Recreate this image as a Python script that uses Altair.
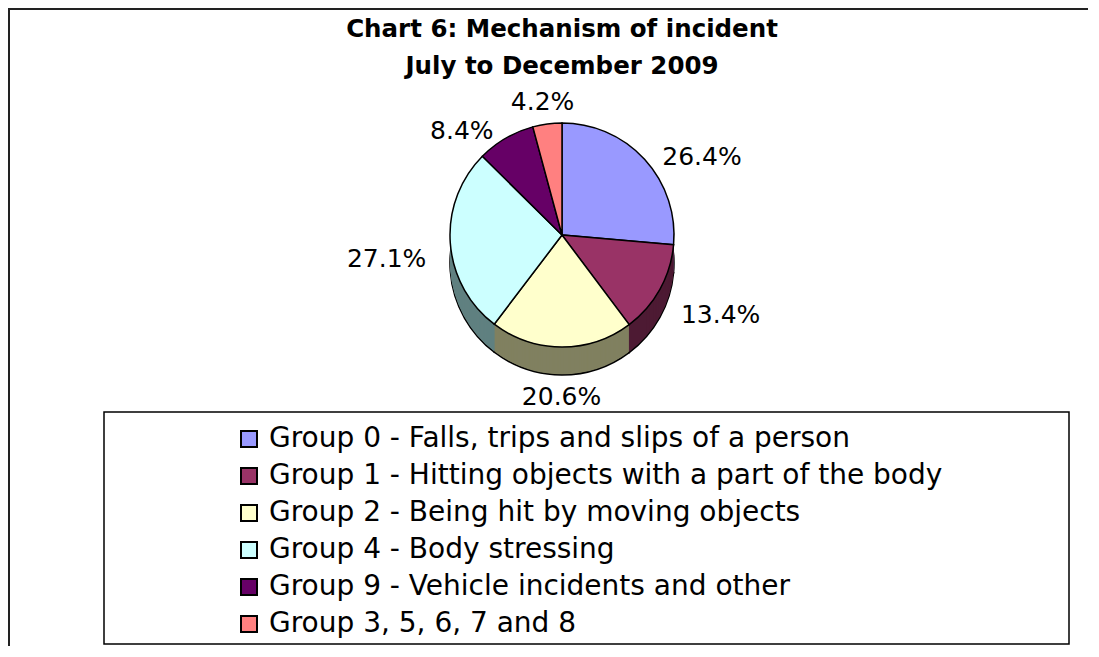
import altair as alt
import pandas as pd

# ---- data ----
categories = [
    "Group 0 - Falls, trips and slips of a person",
    "Group 1 - Hitting objects with a part of the body",
    "Group 2 - Being hit by moving objects",
    "Group 4 - Body stressing",
    "Group 9 - Vehicle incidents and other",
    "Group 3, 5, 6, 7 and 8",
]
values = [26.4, 13.4, 20.6, 27.1, 8.4, 4.2]
top_colors = ["#9999FF", "#993366", "#FFFFCC", "#CCFFFF", "#660066", "#FF8080"]
side_colors = ["#4D4D80", "#4D1A33", "#808060", "#608080", "#330033", "#804040"]
label_side = ["right", "right", "center", "left", "left", "center"]
title_lines = ["Chart 6: Mechanism of incident", "July to December 2009"]

df = pd.DataFrame({
    "category": categories,
    "value": values,
    "idx": list(range(len(categories))),
    "side": side_colors,
    "where": label_side,
    "label": [f"{v:.1f}%" for v in values],
})

FONT = "DejaVu Sans"
W, H = 1080, 638
CX, CY, R, DEPTH = 554, 227, 112, 28

one = pd.DataFrame({"a": [0]})

frame_left = alt.Chart(one).mark_rule(color="#222222", strokeWidth=2).encode(
    x=alt.value(1), y=alt.value(0), y2=alt.value(H))
frame_top = alt.Chart(one).mark_rule(color="#222222", strokeWidth=2).encode(
    x=alt.value(0), x2=alt.value(W), y=alt.value(1))

legend_box = alt.Chart(one).mark_rect(fill="white", stroke="black", strokeWidth=1.5).encode(
    x=alt.value(96), x2=alt.value(1061), y=alt.value(404), y2=alt.value(636))

theta = alt.Theta("value:Q", stack=True)
order = alt.Order("idx:Q")

side_layers = []
for k in range(DEPTH, 0, -1):
    kw = dict(outerRadius=R)
    if k == DEPTH:
        kw.update(stroke="black", strokeWidth=1.5)
    side_layers.append(
        alt.Chart(df).mark_arc(**kw).encode(
            theta=theta, order=order,
            color=alt.Color("side:N", scale=None),
            x=alt.value(CX), y=alt.value(CY + k),
        )
    )

top = alt.Chart(df).mark_arc(outerRadius=R, stroke="black", strokeWidth=1.5).encode(
    theta=theta, order=order,
    color=alt.Color(
        "category:N",
        sort=categories,
        scale=alt.Scale(domain=categories, range=top_colors),
        legend=alt.Legend(
            title=None, orient="none", legendX=227, legendY=417,
            symbolType="square", symbolSize=256, symbolStrokeColor="black",
            symbolStrokeWidth=2, symbolOpacity=1,
            labelFontSize=28, labelFont=FONT, labelColor="black",
            rowPadding=9, labelOffset=6, padding=0, labelLimit=1000,
        ),
    ),
    x=alt.value(CX), y=alt.value(CY),
)


def label_layer(where, align, radius):
    return alt.Chart(df).transform_window(
        cum="sum(value)", sort=[alt.SortField("idx")]
    ).transform_calculate(
        mid="datum.cum - datum.value / 2"
    ).transform_filter(
        alt.datum.where == where
    ).mark_text(
        radius=radius, fontSize=25, font=FONT, color="black", align=align, baseline="middle"
    ).encode(
        theta=alt.Theta("mid:Q", stack=False),
        text="label:N",
        x=alt.value(CX), y=alt.value(CY + DEPTH / 2),
    )


lab_r = label_layer("right", "left", R + DEPTH / 2 + 10)
lab_l = label_layer("left", "right", R + DEPTH / 2 + 10)
lab_c = label_layer("center", "center", R + DEPTH / 2 + 22)

title1 = alt.Chart(one).mark_text(
    text=title_lines[0], fontSize=24.5, fontWeight="bold", font=FONT, color="black"
).encode(x=alt.value(554), y=alt.value(22))
title2 = alt.Chart(one).mark_text(
    text=title_lines[1], fontSize=24.5, fontWeight="bold", font=FONT, color="black"
).encode(x=alt.value(554), y=alt.value(59))

chart = alt.layer(
    frame_left, frame_top, legend_box, *side_layers, top, lab_r, lab_l, lab_c, title1, title2
).resolve_scale(color="independent").properties(
    width=W, height=H, padding=0,
    autosize=alt.AutoSizeParams(type="none"),
).configure_view(stroke=None)

chart.save("out.html", embed_options={"renderer": "svg", "actions": False})
